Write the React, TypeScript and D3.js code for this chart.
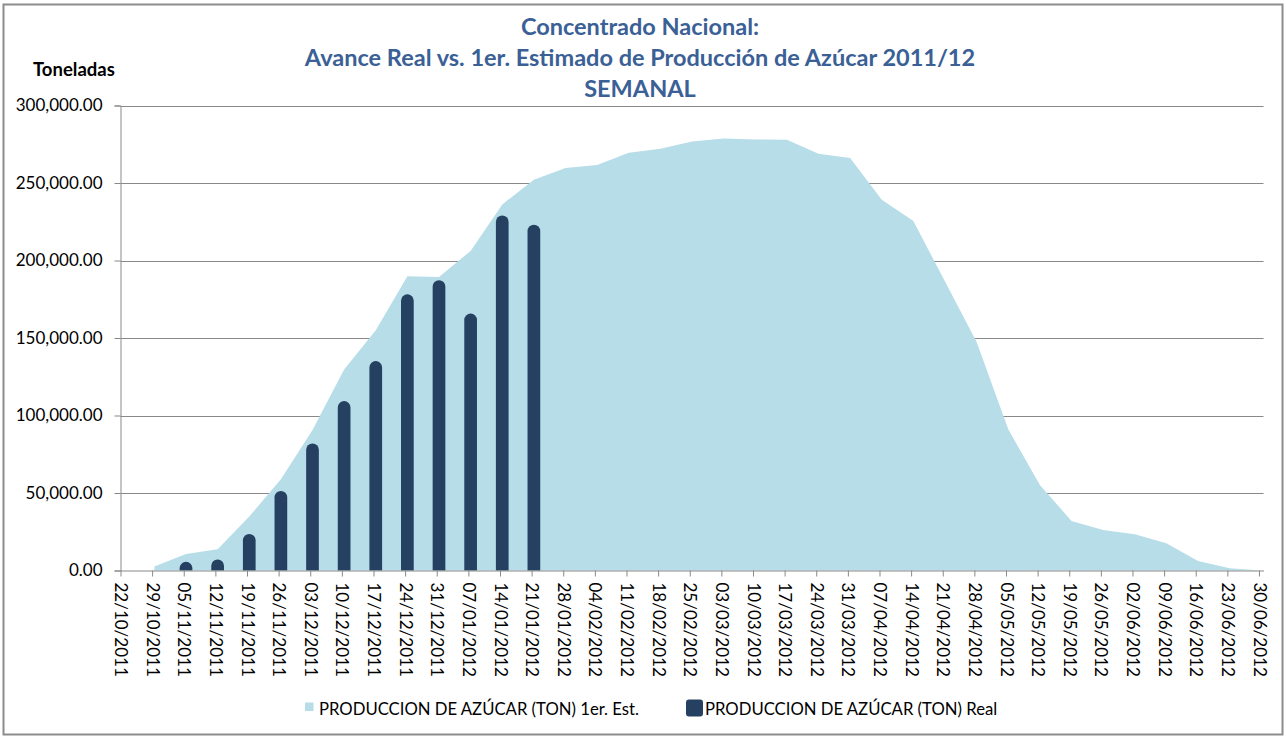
import React, { useEffect, useRef } from 'react';
import * as d3 from 'd3';

// weekly dates shown on the x axis
const weekLabels = [
  '22/10/2011', '29/10/2011', '05/11/2011', '12/11/2011', '19/11/2011', '26/11/2011',
  '03/12/2011', '10/12/2011', '17/12/2011', '24/12/2011', '31/12/2011', '07/01/2012',
  '14/01/2012', '21/01/2012', '28/01/2012', '04/02/2012', '11/02/2012', '18/02/2012',
  '25/02/2012', '03/03/2012', '10/03/2012', '17/03/2012', '24/03/2012', '31/03/2012',
  '07/04/2012', '14/04/2012', '21/04/2012', '28/04/2012', '05/05/2012', '12/05/2012',
  '19/05/2012', '26/05/2012', '02/06/2012', '09/06/2012', '16/06/2012', '23/06/2012',
  '30/06/2012',
];

// 1er. Estimado (area)
const estimado: (number | null)[] = [
  null, 2600, 10700, 13700, 34800, 58800,
  90600, 129700, 155000, 189800, 189400, 206200,
  236200, 252100, 259600, 261600, 269500, 272100,
  276800, 278700, 278100, 277900, 268900, 266100,
  239200, 225500, 186400, 147500, 91100, 55200,
  32000, 26200, 23400, 17600, 6200, 1500,
  0,
];

// Avance real (columns)
const real: (number | null)[] = [
  null, null, 5600, 7100, 23600, 51300,
  82000, 109300, 135100, 178200, 187300, 165800,
  229100, 223100, null, null, null, null,
  null, null, null, null, null, null,
  null, null, null, null, null, null,
  null, null, null, null, null, null,
  null,
];

const yTicks = [0, 50000, 100000, 150000, 200000, 250000, 300000];

const titleLines = [
  'Concentrado Nacional:',
  'Avance Real vs. 1er. Estimado de Producción de Azúcar 2011/12',
  'SEMANAL',
];
const legendLabels = ['PRODUCCION DE AZÚCAR (TON) 1er. Est.', 'PRODUCCION DE AZÚCAR (TON) Real'];

const W = 1286;
const H = 738;
const FONT = 'Lato, "Open Sans", sans-serif';
const AREA_COLOR = '#B7DDE8';
const BAR_COLOR = '#254061';
const GRID_COLOR = '#898989';

const parseDate = d3.utcParse('%d/%m/%Y');

const App: React.FC = () => {
  const svgRef = useRef<SVGSVGElement | null>(null);

  useEffect(() => {
    if (!svgRef.current) return;
    const svg = d3.select(svgRef.current);
    svg.selectAll('*').remove();

    const dates = weekLabels.map(s => parseDate(s)!);
    const left = 120.5;
    const right = 1263.5;
    const top = 105.5;
    const bottom = 570.5;

    const x = d3
      .scaleUtc()
      .domain([dates[0], d3.utcDay.offset(dates[dates.length - 1], 1)])
      .range([left, right]);
    const y = d3.scaleLinear().domain([0, 300000]).range([bottom, top]);
    // points sit in the middle of their day
    const mid = (d: Date) => x(d3.utcHour.offset(d, 12));

    // outer border
    svg
      .append('rect')
      .attr('x', 3.5)
      .attr('y', 4.5)
      .attr('width', 1279)
      .attr('height', 730)
      .attr('fill', 'white')
      .attr('stroke', '#8c8c8c')
      .attr('stroke-width', 2);

    // gridlines
    svg
      .append('g')
      .selectAll('line')
      .data(yTicks.filter(t => t > 0))
      .enter()
      .append('line')
      .attr('x1', left)
      .attr('x2', right)
      .attr('y1', d => Math.round(y(d)) + 0.5)
      .attr('y2', d => Math.round(y(d)) + 0.5)
      .attr('stroke', GRID_COLOR)
      .attr('stroke-width', 1);

    // estimate area
    const estData = dates.map((d, i) => ({ d, v: estimado[i] }));
    const area = d3
      .area<{ d: Date; v: number | null }>()
      .defined(p => p.v !== null)
      .x(p => mid(p.d))
      .y0(y(0))
      .y1(p => y(p.v as number));
    svg.append('path').datum(estData).attr('d', area).attr('fill', AREA_COLOR);

    // real columns with rounded tops
    const barW = 12.7;
    const barData = dates.map((d, i) => ({ d, v: real[i] })).filter(p => p.v !== null) as { d: Date; v: number }[];
    svg
      .append('g')
      .selectAll('path')
      .data(barData)
      .enter()
      .append('path')
      .attr('fill', BAR_COLOR)
      .attr('d', p => {
        const cx = mid(p.d);
        const x0 = cx - barW / 2;
        const x1 = cx + barW / 2;
        const yb = y(0);
        const yt = y(p.v);
        const rx = barW / 2;
        const ry = Math.min(rx, yb - yt);
        return `M${x0},${yb}V${yt + ry}A${rx},${ry} 0 0 1 ${x1},${yt + ry}V${yb}Z`;
      });

    // y axis
    const yAxis = d3
      .axisLeft(y)
      .tickValues(yTicks)
      .tickSize(6)
      .tickPadding(12)
      .tickFormat(d => d3.format(',.2f')(d as number));
    const gy = svg.append('g').attr('transform', `translate(${left},0)`).call(yAxis);
    gy.select('.domain').attr('stroke', GRID_COLOR);
    gy.selectAll('.tick line').attr('stroke', GRID_COLOR);
    gy.selectAll('.tick text').attr('font-family', FONT).attr('font-size', 17).attr('fill', '#000');

    // x axis
    const xAxis = d3
      .axisBottom(x)
      .tickValues(dates)
      .tickSize(6)
      .tickSizeOuter(0)
      .tickFormat((_, i) => weekLabels[i]);
    const gx = svg.append('g').attr('transform', `translate(0,${bottom})`).call(xAxis);
    gx.select('.domain').attr('stroke', GRID_COLOR);
    gx.selectAll('.tick line').attr('stroke', GRID_COLOR);
    gx.selectAll('.tick text')
      .attr('font-family', FONT)
      .attr('font-size', 17)
      .attr('fill', '#000')
      .attr('transform', 'rotate(90)')
      .attr('x', 12)
      .attr('y', 0)
      .attr('dy', '0.35em')
      .style('text-anchor', 'start');

    // titles
    svg
      .append('g')
      .selectAll('text')
      .data(titleLines)
      .enter()
      .append('text')
      .attr('x', 640)
      .attr('y', (_, i) => 35 + i * 31)
      .attr('text-anchor', 'middle')
      .attr('font-family', FONT)
      .attr('font-weight', 'bold')
      .attr('font-size', 23.5)
      .attr('fill', '#3a6096')
      .text(d => d);

    svg
      .append('text')
      .attr('x', 33)
      .attr('y', 76)
      .attr('font-family', FONT)
      .attr('font-weight', 'bold')
      .attr('font-size', 18.5)
      .attr('fill', '#000')
      .text('Toneladas');

    // legend
    const lg = svg.append('g').attr('font-family', FONT).attr('font-size', 16.7).attr('fill', '#000');
    lg.append('rect').attr('x', 305).attr('y', 702.5).attr('width', 8.5).attr('height', 8.5).attr('fill', AREA_COLOR);
    lg.append('text').attr('x', 319).attr('y', 715).text(legendLabels[0]);
    lg.append('rect')
      .attr('x', 686)
      .attr('y', 699.5)
      .attr('width', 17)
      .attr('height', 17)
      .attr('rx', 3)
      .attr('fill', BAR_COLOR);
    lg.append('text').attr('x', 705).attr('y', 715).text(legendLabels[1]);
  }, []);

  return (
    <svg
      ref={svgRef}
      width={W}
      height={H}
      style={{ position: 'absolute', left: 0, top: 0, background: 'white' }}
    />
  );
};

export default App;
